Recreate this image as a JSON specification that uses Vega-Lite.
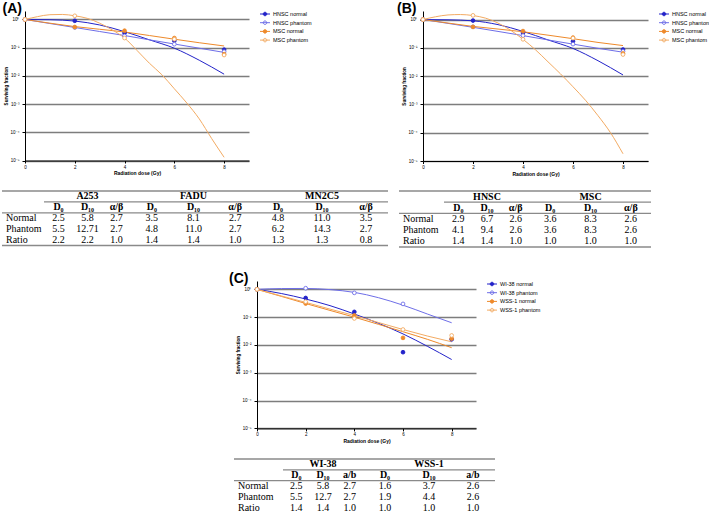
{
"$schema":"https://vega.github.io/schema/vega-lite/v6.json",
"padding":{"left":1,"top":2,"right":0,"bottom":0},
"background":"white",
"config":{
 "view":{"stroke":null},
 "font":"Liberation Sans",
 "title":{"anchor":"start","frame":"group","dx":-22.5,"offset":-5,"fontSize":14,"font":"Liberation Sans","fontWeight":"bold","color":"#000"},
 "axisX":{"grid":false,"domainColor":"#000","tickColor":"#000","tickSize":2.5,"labelFontSize":4.5,"labelPadding":1,"titleFontSize":5,"titleFontWeight":"bold","titlePadding":2,"labelColor":"#000","titleColor":"#000","labelFlush":false,"labelFont":"Liberation Sans","titleFont":"Liberation Sans"},
 "axisY":{"grid":true,"gridColor":"#7d7d7d","gridWidth":1.3,"domainColor":"#000","tickColor":"#000","tickSize":3,"labelFontSize":4.5,"labelPadding":3,"titleFontSize":4.5,"titleFontWeight":"bold","titlePadding":2,"labelColor":"#000","titleColor":"#000","labelFlush":false,"labelFont":"Liberation Sans","titleFont":"Liberation Sans"},
 "legend":{"labelFont":"Liberation Sans","labelFontSize":5.5,"labelColor":"#000","symbolSize":25,"symbolStrokeWidth":1,"labelOffset":5,"rowPadding":0.7,"padding":0,"offset":13,"orient":"right"}
},
"datasets":{
 "cA":[
  {"s":"HNSC normal","d":0,"v":1},{"s":"HNSC normal","d":1,"v":0.98},{"s":"HNSC normal","d":2,"v":0.88},{"s":"HNSC normal","d":3,"v":0.64},{"s":"HNSC normal","d":4,"v":0.37},{"s":"HNSC normal","d":5,"v":0.19},{"s":"HNSC normal","d":6,"v":0.096},{"s":"HNSC normal","d":7,"v":0.036},{"s":"HNSC normal","d":8,"v":0.0115},
  {"s":"HNSC phantom","d":0,"v":1},{"s":"HNSC phantom","d":1,"v":0.72},{"s":"HNSC phantom","d":2,"v":0.52},{"s":"HNSC phantom","d":3,"v":0.375},{"s":"HNSC phantom","d":4,"v":0.27},{"s":"HNSC phantom","d":5,"v":0.19},{"s":"HNSC phantom","d":6,"v":0.135},{"s":"HNSC phantom","d":7,"v":0.096},{"s":"HNSC phantom","d":8,"v":0.068},
  {"s":"MSC normal","d":0,"v":1},{"s":"MSC normal","d":1,"v":0.74},{"s":"MSC normal","d":2,"v":0.56},{"s":"MSC normal","d":3,"v":0.45},{"s":"MSC normal","d":4,"v":0.36},{"s":"MSC normal","d":5,"v":0.27},{"s":"MSC normal","d":6,"v":0.2},{"s":"MSC normal","d":7,"v":0.15},{"s":"MSC normal","d":8,"v":0.115},
  {"s":"MSC phantom","d":0,"v":1},{"s":"MSC phantom","d":0.5,"v":1.26},{"s":"MSC phantom","d":1,"v":1.48},{"s":"MSC phantom","d":1.5,"v":1.51},{"s":"MSC phantom","d":2,"v":1.35},{"s":"MSC phantom","d":2.5,"v":1.1},{"s":"MSC phantom","d":3,"v":0.74},{"s":"MSC phantom","d":3.5,"v":0.43},{"s":"MSC phantom","d":4,"v":0.22},{"s":"MSC phantom","d":4.5,"v":0.08},{"s":"MSC phantom","d":5,"v":0.028},{"s":"MSC phantom","d":5.5,"v":0.011},{"s":"MSC phantom","d":6,"v":0.0035},{"s":"MSC phantom","d":6.5,"v":0.0011},{"s":"MSC phantom","d":7,"v":0.0003},{"s":"MSC phantom","d":7.5,"v":0.00006},{"s":"MSC phantom","d":8,"v":0.000013}
 ],
 "pA":[
  {"s":"HNSC normal","d":0,"v":1},{"s":"HNSC normal","d":2,"v":0.9},{"s":"HNSC normal","d":4,"v":0.33},{"s":"HNSC normal","d":6,"v":0.176},{"s":"HNSC normal","d":8,"v":0.085},
  {"s":"HNSC phantom","d":0,"v":1},{"s":"HNSC phantom","d":2,"v":0.52},{"s":"HNSC phantom","d":4,"v":0.26},{"s":"HNSC phantom","d":6,"v":0.133},{"s":"HNSC phantom","d":8,"v":0.072},
  {"s":"MSC normal","d":0,"v":1},{"s":"MSC normal","d":2,"v":0.54},{"s":"MSC normal","d":4,"v":0.4},{"s":"MSC normal","d":6,"v":0.22},{"s":"MSC normal","d":8,"v":0.059},
  {"s":"MSC phantom","d":0,"v":1},{"s":"MSC phantom","d":2,"v":1.35},{"s":"MSC phantom","d":4,"v":0.22},{"s":"MSC phantom","d":6,"v":0.2},{"s":"MSC phantom","d":8,"v":0.055}
 ],
 "cB":[
  {"s":"HNSC normal","d":0,"v":1},{"s":"HNSC normal","d":1,"v":0.98},{"s":"HNSC normal","d":2,"v":0.9},{"s":"HNSC normal","d":3,"v":0.66},{"s":"HNSC normal","d":4,"v":0.38},{"s":"HNSC normal","d":5,"v":0.19},{"s":"HNSC normal","d":6,"v":0.095},{"s":"HNSC normal","d":7,"v":0.035},{"s":"HNSC normal","d":8,"v":0.011},
  {"s":"HNSC phantom","d":0,"v":1},{"s":"HNSC phantom","d":1,"v":0.73},{"s":"HNSC phantom","d":2,"v":0.53},{"s":"HNSC phantom","d":3,"v":0.38},{"s":"HNSC phantom","d":4,"v":0.27},{"s":"HNSC phantom","d":5,"v":0.19},{"s":"HNSC phantom","d":6,"v":0.135},{"s":"HNSC phantom","d":7,"v":0.096},{"s":"HNSC phantom","d":8,"v":0.07},
  {"s":"MSC normal","d":0,"v":1},{"s":"MSC normal","d":1,"v":0.75},{"s":"MSC normal","d":2,"v":0.57},{"s":"MSC normal","d":3,"v":0.46},{"s":"MSC normal","d":4,"v":0.37},{"s":"MSC normal","d":5,"v":0.28},{"s":"MSC normal","d":6,"v":0.21},{"s":"MSC normal","d":7,"v":0.155},{"s":"MSC normal","d":8,"v":0.12},
  {"s":"MSC phantom","d":0,"v":1},{"s":"MSC phantom","d":0.5,"v":1.25},{"s":"MSC phantom","d":1,"v":1.45},{"s":"MSC phantom","d":1.5,"v":1.5},{"s":"MSC phantom","d":2,"v":1.38},{"s":"MSC phantom","d":2.5,"v":1.12},{"s":"MSC phantom","d":3,"v":0.75},{"s":"MSC phantom","d":3.5,"v":0.42},{"s":"MSC phantom","d":4,"v":0.2},{"s":"MSC phantom","d":4.5,"v":0.085},{"s":"MSC phantom","d":5,"v":0.032},{"s":"MSC phantom","d":5.5,"v":0.012},{"s":"MSC phantom","d":6,"v":0.0042},{"s":"MSC phantom","d":6.5,"v":0.0014},{"s":"MSC phantom","d":7,"v":0.0004},{"s":"MSC phantom","d":7.5,"v":0.0001},{"s":"MSC phantom","d":8,"v":0.000018}
 ],
 "pB":[
  {"s":"HNSC normal","d":0,"v":1},{"s":"HNSC normal","d":2,"v":0.92},{"s":"HNSC normal","d":4,"v":0.34},{"s":"HNSC normal","d":6,"v":0.17},{"s":"HNSC normal","d":8,"v":0.087},
  {"s":"HNSC phantom","d":0,"v":1},{"s":"HNSC phantom","d":2,"v":0.55},{"s":"HNSC phantom","d":4,"v":0.27},{"s":"HNSC phantom","d":6,"v":0.135},{"s":"HNSC phantom","d":8,"v":0.075},
  {"s":"MSC normal","d":0,"v":1},{"s":"MSC normal","d":2,"v":0.55},{"s":"MSC normal","d":4,"v":0.39},{"s":"MSC normal","d":6,"v":0.23},{"s":"MSC normal","d":8,"v":0.063},
  {"s":"MSC phantom","d":0,"v":1},{"s":"MSC phantom","d":2,"v":1.4},{"s":"MSC phantom","d":4,"v":0.2},{"s":"MSC phantom","d":6,"v":0.22},{"s":"MSC phantom","d":8,"v":0.058}
 ],
 "cC":[
  {"s":"WI-38 normal","d":0,"v":1},{"s":"WI-38 normal","d":1,"v":0.71},{"s":"WI-38 normal","d":2,"v":0.45},{"s":"WI-38 normal","d":3,"v":0.26},{"s":"WI-38 normal","d":4,"v":0.13},{"s":"WI-38 normal","d":5,"v":0.06},{"s":"WI-38 normal","d":6,"v":0.025},{"s":"WI-38 normal","d":7,"v":0.009},{"s":"WI-38 normal","d":8,"v":0.003},
  {"s":"WI-38 phantom","d":0,"v":1},{"s":"WI-38 phantom","d":1,"v":1.07},{"s":"WI-38 phantom","d":2,"v":1.08},{"s":"WI-38 phantom","d":3,"v":0.98},{"s":"WI-38 phantom","d":4,"v":0.78},{"s":"WI-38 phantom","d":5,"v":0.5},{"s":"WI-38 phantom","d":6,"v":0.27},{"s":"WI-38 phantom","d":7,"v":0.13},{"s":"WI-38 phantom","d":8,"v":0.063},
  {"s":"WSS-1 normal","d":0,"v":1},{"s":"WSS-1 normal","d":1,"v":0.56},{"s":"WSS-1 normal","d":2,"v":0.31},{"s":"WSS-1 normal","d":3,"v":0.175},{"s":"WSS-1 normal","d":4,"v":0.1},{"s":"WSS-1 normal","d":5,"v":0.055},{"s":"WSS-1 normal","d":6,"v":0.03},{"s":"WSS-1 normal","d":7,"v":0.016},{"s":"WSS-1 normal","d":8,"v":0.008},
  {"s":"WSS-1 phantom","d":0,"v":1},{"s":"WSS-1 phantom","d":1,"v":0.58},{"s":"WSS-1 phantom","d":2,"v":0.34},{"s":"WSS-1 phantom","d":3,"v":0.195},{"s":"WSS-1 phantom","d":4,"v":0.115},{"s":"WSS-1 phantom","d":5,"v":0.064},{"s":"WSS-1 phantom","d":6,"v":0.036},{"s":"WSS-1 phantom","d":7,"v":0.021},{"s":"WSS-1 phantom","d":8,"v":0.013}
 ],
 "pC":[
  {"s":"WI-38 normal","d":0,"v":1},{"s":"WI-38 normal","d":2,"v":0.49},{"s":"WI-38 normal","d":4,"v":0.155},{"s":"WI-38 normal","d":6,"v":0.0055},{"s":"WI-38 normal","d":8,"v":0.016},
  {"s":"WI-38 phantom","d":0,"v":1},{"s":"WI-38 phantom","d":2,"v":1.1},{"s":"WI-38 phantom","d":4,"v":0.75},{"s":"WI-38 phantom","d":6,"v":0.3},
  {"s":"WSS-1 normal","d":0,"v":1},{"s":"WSS-1 normal","d":2,"v":0.31},{"s":"WSS-1 normal","d":4,"v":0.115},{"s":"WSS-1 normal","d":6,"v":0.018},{"s":"WSS-1 normal","d":8,"v":0.017},
  {"s":"WSS-1 phantom","d":0,"v":1},{"s":"WSS-1 phantom","d":2,"v":0.36},{"s":"WSS-1 phantom","d":4,"v":0.09},{"s":"WSS-1 phantom","d":6,"v":0.036},{"s":"WSS-1 phantom","d":8,"v":0.022}
 ],
 "tab":[
  {"t":"A","g":"A253","r":"head","D10":"A253"},
  {"t":"A","g":"A253","r":"sub","D0":"D₀","D10":"D₁₀","ab":"α/β"},
  {"t":"A","g":"A253","r":"Normal","D0":"2.5","D10":"5.8","ab":"2.7"},
  {"t":"A","g":"A253","r":"Phantom","D0":"5.5","D10":"12.71","ab":"2.7"},
  {"t":"A","g":"A253","r":"Ratio","D0":"2.2","D10":"2.2","ab":"1.0"},
  {"t":"A","g":"FADU","r":"head","D10":"FADU"},
  {"t":"A","g":"FADU","r":"sub","D0":"D₀","D10":"D₁₀","ab":"α/β"},
  {"t":"A","g":"FADU","r":"Normal","D0":"3.5","D10":"8.1","ab":"2.7"},
  {"t":"A","g":"FADU","r":"Phantom","D0":"4.8","D10":"11.0","ab":"2.7"},
  {"t":"A","g":"FADU","r":"Ratio","D0":"1.4","D10":"1.4","ab":"1.0"},
  {"t":"A","g":"MN2C5","r":"head","D10":"MN2C5"},
  {"t":"A","g":"MN2C5","r":"sub","D0":"D₀","D10":"D₁₀","ab":"α/β"},
  {"t":"A","g":"MN2C5","r":"Normal","D0":"4.8","D10":"11.0","ab":"3.5"},
  {"t":"A","g":"MN2C5","r":"Phantom","D0":"6.2","D10":"14.3","ab":"2.7"},
  {"t":"A","g":"MN2C5","r":"Ratio","D0":"1.3","D10":"1.3","ab":"0.8"},
  {"t":"B","g":"HNSC","r":"head","D10":"HNSC"},
  {"t":"B","g":"HNSC","r":"sub","D0":"D₀","D10":"D₁₀","ab":"α/β"},
  {"t":"B","g":"HNSC","r":"Normal","D0":"2.9","D10":"6.7","ab":"2.6"},
  {"t":"B","g":"HNSC","r":"Phantom","D0":"4.1","D10":"9.4","ab":"2.6"},
  {"t":"B","g":"HNSC","r":"Ratio","D0":"1.4","D10":"1.4","ab":"1.0"},
  {"t":"B","g":"MSC","r":"head","D10":"MSC"},
  {"t":"B","g":"MSC","r":"sub","D0":"D₀","D10":"D₁₀","ab":"α/β"},
  {"t":"B","g":"MSC","r":"Normal","D0":"3.6","D10":"8.3","ab":"2.6"},
  {"t":"B","g":"MSC","r":"Phantom","D0":"3.6","D10":"8.3","ab":"2.6"},
  {"t":"B","g":"MSC","r":"Ratio","D0":"1.0","D10":"1.0","ab":"1.0"},
  {"t":"C","g":"WI-38","r":"head","D10":"WI-38"},
  {"t":"C","g":"WI-38","r":"sub","D0":"D₀","D10":"D₁₀","ab":"a/b"},
  {"t":"C","g":"WI-38","r":"Normal","D0":"2.5","D10":"5.8","ab":"2.7"},
  {"t":"C","g":"WI-38","r":"Phantom","D0":"5.5","D10":"12.7","ab":"2.7"},
  {"t":"C","g":"WI-38","r":"Ratio","D0":"1.4","D10":"1.4","ab":"1.0"},
  {"t":"C","g":"WSS-1","r":"head","D10":"WSS-1"},
  {"t":"C","g":"WSS-1","r":"sub","D0":"D₀","D10":"D₁₀","ab":"a/b"},
  {"t":"C","g":"WSS-1","r":"Normal","D0":"1.6","D10":"3.7","ab":"2.6"},
  {"t":"C","g":"WSS-1","r":"Phantom","D0":"1.9","D10":"4.4","ab":"2.6"},
  {"t":"C","g":"WSS-1","r":"Ratio","D0":"1.0","D10":"1.0","ab":"1.0"}
 ],
 "rowsL":[{"k":"L","r":"Normal"},{"k":"L","r":"Phantom"},{"k":"L","r":"Ratio"}],
 "rules":[{"k":"L","e":"top","r":"head"},{"k":"L","e":"bot","r":"sub"},{"k":"L","e":"bot","r":"Ratio"},{"k":"G","e":"top","r":"head"},{"k":"G","e":"bot","r":"head"},{"k":"G","e":"bot","r":"sub"},{"k":"G","e":"bot","r":"Ratio"}]
},
"resolve":{"scale":{"stroke":"independent","fill":"independent"},"legend":{"stroke":"independent","fill":"independent"}},
"spacing":24,
"vconcat":[
 {"spacing":14,"resolve":{"scale":{"stroke":"independent","fill":"independent"},"legend":{"stroke":"independent","fill":"independent"}},"vconcat":[
  {"hconcat":[
   {"width":22.5,"height":1,"data":{"values":[]},"mark":"point"},
   {"width":224,"height":149.5,"title":"(A)",
    "encoding":{
     "x":{"field":"d","type":"quantitative","scale":{"domain":[0,9],"nice":false,"zero":false},"axis":{"values":[0,2,4,6,8],"title":"Radiation dose (Gy)"}},
     "y":{"field":"v","type":"quantitative","scale":{"type":"log","domain":[0.00001,2],"nice":false},"axis":{"values":[0.00001,0.0001,0.001,0.01,0.1,1],"labelExpr":"datum.value > 0.5 ? '10⁰' : datum.value > 0.05 ? '10⁻¹' : datum.value > 0.005 ? '10⁻²' : datum.value > 0.0005 ? '10⁻³' : datum.value > 0.00005 ? '10⁻⁴' : '10⁻⁵'","title":"Surviving fraction"}},
     "stroke":{"field":"s","type":"nominal","title":null,"scale":{"domain":["HNSC normal","HNSC phantom","MSC normal","MSC phantom"],"range":["#2323c9","#6e6ee8","#ee8a2b","#f3ab63"]},"legend":{"symbolType":"M-2,0H2M-0.7,0A0.7,0.7,0,1,0,0.7,0A0.7,0.7,0,1,0,-0.7,0Z"}}
    },
    "layer":[
     {"data":{"name":"cA"},"mark":{"type":"line","interpolate":"monotone","strokeWidth":1}},
     {"data":{"name":"pA"},"mark":{"type":"point","filled":true,"size":14,"strokeWidth":0.9,"opacity":1},
      "encoding":{"fill":{"field":"s","type":"nominal","title":null,"scale":{"domain":["HNSC normal","HNSC phantom","MSC normal","MSC phantom"],"range":["#2323c9","#ffffff","#ee8a2b","#ffffff"]},"legend":{"symbolType":"M-2,0H2M-0.7,0A0.7,0.7,0,1,0,0.7,0A0.7,0.7,0,1,0,-0.7,0Z"}}}}
    ]},
   {"width":173.5,"height":1,"data":{"values":[]},"mark":"point"},
   {"width":225,"height":150,"title":{"text":"(B)","dx":-26},
    "encoding":{
     "x":{"field":"d","type":"quantitative","scale":{"domain":[0,9],"nice":false,"zero":false},"axis":{"values":[0,2,4,6,8],"title":"Radiation dose (Gy)"}},
     "y":{"field":"v","type":"quantitative","scale":{"type":"log","domain":[0.00001,2],"nice":false},"axis":{"values":[0.00001,0.0001,0.001,0.01,0.1,1],"labelExpr":"datum.value > 0.5 ? '10⁰' : datum.value > 0.05 ? '10⁻¹' : datum.value > 0.005 ? '10⁻²' : datum.value > 0.0005 ? '10⁻³' : datum.value > 0.00005 ? '10⁻⁴' : '10⁻⁵'","title":"Surviving fraction"}},
     "stroke":{"field":"s","type":"nominal","title":null,"scale":{"domain":["HNSC normal","HNSC phantom","MSC normal","MSC phantom"],"range":["#2323c9","#6e6ee8","#ee8a2b","#f3ab63"]},"legend":{"symbolType":"M-2,0H2M-0.7,0A0.7,0.7,0,1,0,0.7,0A0.7,0.7,0,1,0,-0.7,0Z"}}
    },
    "layer":[
     {"data":{"name":"cB"},"mark":{"type":"line","interpolate":"monotone","strokeWidth":1}},
     {"data":{"name":"pB"},"mark":{"type":"point","filled":true,"size":14,"strokeWidth":0.9,"opacity":1},
      "encoding":{"fill":{"field":"s","type":"nominal","title":null,"scale":{"domain":["HNSC normal","HNSC phantom","MSC normal","MSC phantom"],"range":["#2323c9","#ffffff","#ee8a2b","#ffffff"]},"legend":{"symbolType":"M-2,0H2M-0.7,0A0.7,0.7,0,1,0,0.7,0A0.7,0.7,0,1,0,-0.7,0Z"}}}}
    ]}
  ],"spacing":0,"bounds":"flush","resolve":{"scale":{"stroke":"independent","fill":"independent"},"legend":{"stroke":"independent","fill":"independent"}}},
  {"hconcat":[
   {"width":42,"height":54.5,"layer":[
    {"data":{"name":"rowsL"},"mark":{"type":"text","font":"Liberation Serif","fontSize":10,"align":"left","dx":4,"color":"#000"},"encoding":{"x":{"field":"k","type":"nominal","bandPosition":0,"scale":{"type":"band","paddingInner":0,"paddingOuter":0},"axis":null},"y":{"field":"r","type":"nominal","scale":{"type":"band","domain":["head","sub","Normal","Phantom","Ratio"],"paddingInner":0,"paddingOuter":0},"axis":null},"text":{"field":"r"}}},
    {"data":{"name":"rules"},"transform":[{"filter":"datum.k=='L' && datum.e=='top'"}],"mark":{"type":"rule","color":"#8a8a8a","strokeWidth":1.3},"encoding":{"y":{"field":"r","type":"nominal","bandPosition":0,"scale":{"type":"band","domain":["head","sub","Normal","Phantom","Ratio"],"paddingInner":0,"paddingOuter":0},"axis":null}}},
    {"data":{"name":"rules"},"transform":[{"filter":"datum.k=='L' && datum.e=='bot'"}],"mark":{"type":"rule","color":"#8a8a8a","strokeWidth":1.3},"encoding":{"y":{"field":"r","type":"nominal","bandPosition":1,"scale":{"type":"band","domain":["head","sub","Normal","Phantom","Ratio"],"paddingInner":0,"paddingOuter":0},"axis":null}}}
   ]},
   {"width":87,"height":54.5,"layer":[
    {"data":{"name":"tab"},"transform":[{"filter":"datum.t=='A' && datum.g=='A253' && datum.r!='head' && datum.r!='sub'"},{"fold":["D0","D10","ab"],"as":["c","v"]},{"filter":"isValid(datum.v)"}],"mark":{"type":"text","font":"Liberation Serif","fontSize":10,"color":"#000"},"encoding":{"x":{"field":"c","type":"nominal","scale":{"type":"point","domain":["D0","D10","ab"],"padding":0.5},"axis":null},"y":{"field":"r","type":"nominal","scale":{"type":"band","domain":["head","sub","Normal","Phantom","Ratio"],"paddingInner":0,"paddingOuter":0},"axis":null},"text":{"field":"v"}}},
    {"data":{"name":"tab"},"transform":[{"filter":"datum.t=='A' && datum.g=='A253' && (datum.r=='head' || datum.r=='sub')"},{"fold":["D0","D10","ab"],"as":["c","v"]},{"filter":"isValid(datum.v)"}],"mark":{"type":"text","font":"Liberation Serif","fontSize":10,"fontWeight":"bold","color":"#000"},"encoding":{"x":{"field":"c","type":"nominal","scale":{"type":"point","domain":["D0","D10","ab"],"padding":0.5},"axis":null},"y":{"field":"r","type":"nominal","scale":{"type":"band","domain":["head","sub","Normal","Phantom","Ratio"],"paddingInner":0,"paddingOuter":0},"axis":null},"text":{"field":"v"}}},
    {"data":{"name":"rules"},"transform":[{"filter":"datum.k=='G' && datum.e=='top'"}],"mark":{"type":"rule","color":"#8a8a8a","strokeWidth":1.3},"encoding":{"y":{"field":"r","type":"nominal","bandPosition":0,"scale":{"type":"band","domain":["head","sub","Normal","Phantom","Ratio"],"paddingInner":0,"paddingOuter":0},"axis":null}}},
    {"data":{"name":"rules"},"transform":[{"filter":"datum.k=='G' && datum.e=='bot'"}],"mark":{"type":"rule","color":"#8a8a8a","strokeWidth":1.3},"encoding":{"y":{"field":"r","type":"nominal","bandPosition":1,"scale":{"type":"band","domain":["head","sub","Normal","Phantom","Ratio"],"paddingInner":0,"paddingOuter":0},"axis":null}}}
   ]},
   {"width":125,"height":54.5,"layer":[
    {"data":{"name":"tab"},"transform":[{"filter":"datum.t=='A' && datum.g=='FADU' && datum.r!='head' && datum.r!='sub'"},{"fold":["D0","D10","ab"],"as":["c","v"]},{"filter":"isValid(datum.v)"}],"mark":{"type":"text","font":"Liberation Serif","fontSize":10,"color":"#000"},"encoding":{"x":{"field":"c","type":"nominal","scale":{"type":"point","domain":["D0","D10","ab"],"padding":0.5},"axis":null},"y":{"field":"r","type":"nominal","scale":{"type":"band","domain":["head","sub","Normal","Phantom","Ratio"],"paddingInner":0,"paddingOuter":0},"axis":null},"text":{"field":"v"}}},
    {"data":{"name":"tab"},"transform":[{"filter":"datum.t=='A' && datum.g=='FADU' && (datum.r=='head' || datum.r=='sub')"},{"fold":["D0","D10","ab"],"as":["c","v"]},{"filter":"isValid(datum.v)"}],"mark":{"type":"text","font":"Liberation Serif","fontSize":10,"fontWeight":"bold","color":"#000"},"encoding":{"x":{"field":"c","type":"nominal","scale":{"type":"point","domain":["D0","D10","ab"],"padding":0.5},"axis":null},"y":{"field":"r","type":"nominal","scale":{"type":"band","domain":["head","sub","Normal","Phantom","Ratio"],"paddingInner":0,"paddingOuter":0},"axis":null},"text":{"field":"v"}}},
    {"data":{"name":"rules"},"transform":[{"filter":"datum.k=='G' && datum.e=='top'"}],"mark":{"type":"rule","color":"#8a8a8a","strokeWidth":1.3},"encoding":{"y":{"field":"r","type":"nominal","bandPosition":0,"scale":{"type":"band","domain":["head","sub","Normal","Phantom","Ratio"],"paddingInner":0,"paddingOuter":0},"axis":null}}},
    {"data":{"name":"rules"},"transform":[{"filter":"datum.k=='G' && datum.e=='bot'"}],"mark":{"type":"rule","color":"#8a8a8a","strokeWidth":1.3},"encoding":{"y":{"field":"r","type":"nominal","bandPosition":1,"scale":{"type":"band","domain":["head","sub","Normal","Phantom","Ratio"],"paddingInner":0,"paddingOuter":0},"axis":null}}}
   ]},
   {"width":132,"height":54.5,"layer":[
    {"data":{"name":"tab"},"transform":[{"filter":"datum.t=='A' && datum.g=='MN2C5' && datum.r!='head' && datum.r!='sub'"},{"fold":["D0","D10","ab"],"as":["c","v"]},{"filter":"isValid(datum.v)"}],"mark":{"type":"text","font":"Liberation Serif","fontSize":10,"color":"#000"},"encoding":{"x":{"field":"c","type":"nominal","scale":{"type":"point","domain":["D0","D10","ab"],"padding":0.5},"axis":null},"y":{"field":"r","type":"nominal","scale":{"type":"band","domain":["head","sub","Normal","Phantom","Ratio"],"paddingInner":0,"paddingOuter":0},"axis":null},"text":{"field":"v"}}},
    {"data":{"name":"tab"},"transform":[{"filter":"datum.t=='A' && datum.g=='MN2C5' && (datum.r=='head' || datum.r=='sub')"},{"fold":["D0","D10","ab"],"as":["c","v"]},{"filter":"isValid(datum.v)"}],"mark":{"type":"text","font":"Liberation Serif","fontSize":10,"fontWeight":"bold","color":"#000"},"encoding":{"x":{"field":"c","type":"nominal","scale":{"type":"point","domain":["D0","D10","ab"],"padding":0.5},"axis":null},"y":{"field":"r","type":"nominal","scale":{"type":"band","domain":["head","sub","Normal","Phantom","Ratio"],"paddingInner":0,"paddingOuter":0},"axis":null},"text":{"field":"v"}}},
    {"data":{"name":"rules"},"transform":[{"filter":"datum.k=='G' && datum.e=='top'"}],"mark":{"type":"rule","color":"#8a8a8a","strokeWidth":1.3},"encoding":{"y":{"field":"r","type":"nominal","bandPosition":0,"scale":{"type":"band","domain":["head","sub","Normal","Phantom","Ratio"],"paddingInner":0,"paddingOuter":0},"axis":null}}},
    {"data":{"name":"rules"},"transform":[{"filter":"datum.k=='G' && datum.e=='bot'"}],"mark":{"type":"rule","color":"#8a8a8a","strokeWidth":1.3},"encoding":{"y":{"field":"r","type":"nominal","bandPosition":1,"scale":{"type":"band","domain":["head","sub","Normal","Phantom","Ratio"],"paddingInner":0,"paddingOuter":0},"axis":null}}}
   ]},
   {"width":11,"height":1,"data":{"values":[]},"mark":"point"},
   {"width":45,"height":56,"layer":[
    {"data":{"name":"rowsL"},"mark":{"type":"text","font":"Liberation Serif","fontSize":10,"align":"left","dx":4,"color":"#000"},"encoding":{"x":{"field":"k","type":"nominal","bandPosition":0,"scale":{"type":"band","paddingInner":0,"paddingOuter":0},"axis":null},"y":{"field":"r","type":"nominal","scale":{"type":"band","domain":["head","sub","Normal","Phantom","Ratio"],"paddingInner":0,"paddingOuter":0},"axis":null},"text":{"field":"r"}}},
    {"data":{"name":"rules"},"transform":[{"filter":"datum.k=='L' && datum.e=='top'"}],"mark":{"type":"rule","color":"#8a8a8a","strokeWidth":1.3},"encoding":{"y":{"field":"r","type":"nominal","bandPosition":0,"scale":{"type":"band","domain":["head","sub","Normal","Phantom","Ratio"],"paddingInner":0,"paddingOuter":0},"axis":null}}},
    {"data":{"name":"rules"},"transform":[{"filter":"datum.k=='L' && datum.e=='bot'"}],"mark":{"type":"rule","color":"#8a8a8a","strokeWidth":1.3},"encoding":{"y":{"field":"r","type":"nominal","bandPosition":1,"scale":{"type":"band","domain":["head","sub","Normal","Phantom","Ratio"],"paddingInner":0,"paddingOuter":0},"axis":null}}}
   ]},
   {"width":86,"height":56,"layer":[
    {"data":{"name":"tab"},"transform":[{"filter":"datum.t=='B' && datum.g=='HNSC' && datum.r!='head' && datum.r!='sub'"},{"fold":["D0","D10","ab"],"as":["c","v"]},{"filter":"isValid(datum.v)"}],"mark":{"type":"text","font":"Liberation Serif","fontSize":10,"color":"#000"},"encoding":{"x":{"field":"c","type":"nominal","scale":{"type":"point","domain":["D0","D10","ab"],"padding":0.5},"axis":null},"y":{"field":"r","type":"nominal","scale":{"type":"band","domain":["head","sub","Normal","Phantom","Ratio"],"paddingInner":0,"paddingOuter":0},"axis":null},"text":{"field":"v"}}},
    {"data":{"name":"tab"},"transform":[{"filter":"datum.t=='B' && datum.g=='HNSC' && (datum.r=='head' || datum.r=='sub')"},{"fold":["D0","D10","ab"],"as":["c","v"]},{"filter":"isValid(datum.v)"}],"mark":{"type":"text","font":"Liberation Serif","fontSize":10,"fontWeight":"bold","color":"#000"},"encoding":{"x":{"field":"c","type":"nominal","scale":{"type":"point","domain":["D0","D10","ab"],"padding":0.5},"axis":null},"y":{"field":"r","type":"nominal","scale":{"type":"band","domain":["head","sub","Normal","Phantom","Ratio"],"paddingInner":0,"paddingOuter":0},"axis":null},"text":{"field":"v"}}},
    {"data":{"name":"rules"},"transform":[{"filter":"datum.k=='G' && datum.e=='top'"}],"mark":{"type":"rule","color":"#8a8a8a","strokeWidth":1.3},"encoding":{"y":{"field":"r","type":"nominal","bandPosition":0,"scale":{"type":"band","domain":["head","sub","Normal","Phantom","Ratio"],"paddingInner":0,"paddingOuter":0},"axis":null}}},
    {"data":{"name":"rules"},"transform":[{"filter":"datum.k=='G' && datum.e=='bot'"}],"mark":{"type":"rule","color":"#8a8a8a","strokeWidth":1.3},"encoding":{"y":{"field":"r","type":"nominal","bandPosition":1,"scale":{"type":"band","domain":["head","sub","Normal","Phantom","Ratio"],"paddingInner":0,"paddingOuter":0},"axis":null}}}
   ]},
   {"width":121,"height":56,"layer":[
    {"data":{"name":"tab"},"transform":[{"filter":"datum.t=='B' && datum.g=='MSC' && datum.r!='head' && datum.r!='sub'"},{"fold":["D0","D10","ab"],"as":["c","v"]},{"filter":"isValid(datum.v)"}],"mark":{"type":"text","font":"Liberation Serif","fontSize":10,"color":"#000"},"encoding":{"x":{"field":"c","type":"nominal","scale":{"type":"point","domain":["D0","D10","ab"],"padding":0.5},"axis":null},"y":{"field":"r","type":"nominal","scale":{"type":"band","domain":["head","sub","Normal","Phantom","Ratio"],"paddingInner":0,"paddingOuter":0},"axis":null},"text":{"field":"v"}}},
    {"data":{"name":"tab"},"transform":[{"filter":"datum.t=='B' && datum.g=='MSC' && (datum.r=='head' || datum.r=='sub')"},{"fold":["D0","D10","ab"],"as":["c","v"]},{"filter":"isValid(datum.v)"}],"mark":{"type":"text","font":"Liberation Serif","fontSize":10,"fontWeight":"bold","color":"#000"},"encoding":{"x":{"field":"c","type":"nominal","scale":{"type":"point","domain":["D0","D10","ab"],"padding":0.5},"axis":null},"y":{"field":"r","type":"nominal","scale":{"type":"band","domain":["head","sub","Normal","Phantom","Ratio"],"paddingInner":0,"paddingOuter":0},"axis":null},"text":{"field":"v"}}},
    {"data":{"name":"rules"},"transform":[{"filter":"datum.k=='G' && datum.e=='top'"}],"mark":{"type":"rule","color":"#8a8a8a","strokeWidth":1.3},"encoding":{"y":{"field":"r","type":"nominal","bandPosition":0,"scale":{"type":"band","domain":["head","sub","Normal","Phantom","Ratio"],"paddingInner":0,"paddingOuter":0},"axis":null}}},
    {"data":{"name":"rules"},"transform":[{"filter":"datum.k=='G' && datum.e=='bot'"}],"mark":{"type":"rule","color":"#8a8a8a","strokeWidth":1.3},"encoding":{"y":{"field":"r","type":"nominal","bandPosition":1,"scale":{"type":"band","domain":["head","sub","Normal","Phantom","Ratio"],"paddingInner":0,"paddingOuter":0},"axis":null}}}
   ]}
  ],"spacing":0,"bounds":"flush"}
 ]},
 {"spacing":14,"resolve":{"scale":{"stroke":"independent","fill":"independent"},"legend":{"stroke":"independent","fill":"independent"}},"vconcat":[
  {"hconcat":[
   {"width":255,"height":1,"data":{"values":[]},"mark":"point"},
   {"width":219,"height":147.4,"title":{"text":"(C)","dx":-28},
    "encoding":{
     "x":{"field":"d","type":"quantitative","scale":{"domain":[0,9],"nice":false,"zero":false},"axis":{"values":[0,2,4,6,8],"title":"Radiation dose (Gy)"}},
     "y":{"field":"v","type":"quantitative","scale":{"type":"log","domain":[0.00001,2],"nice":false},"axis":{"values":[0.00001,0.0001,0.001,0.01,0.1,1],"labelExpr":"datum.value > 0.5 ? '10⁰' : datum.value > 0.05 ? '10⁻¹' : datum.value > 0.005 ? '10⁻²' : datum.value > 0.0005 ? '10⁻³' : datum.value > 0.00005 ? '10⁻⁴' : '10⁻⁵'","title":"Surviving fraction"}},
     "stroke":{"field":"s","type":"nominal","title":null,"scale":{"domain":["WI-38 normal","WI-38 phantom","WSS-1 normal","WSS-1 phantom"],"range":["#2323c9","#6e6ee8","#ee8a2b","#f3ab63"]},"legend":{"symbolType":"M-2,0H2M-0.7,0A0.7,0.7,0,1,0,0.7,0A0.7,0.7,0,1,0,-0.7,0Z"}}
    },
    "layer":[
     {"data":{"name":"cC"},"mark":{"type":"line","interpolate":"monotone","strokeWidth":1}},
     {"data":{"name":"pC"},"mark":{"type":"point","filled":true,"size":14,"strokeWidth":0.9,"opacity":1},
      "encoding":{"fill":{"field":"s","type":"nominal","title":null,"scale":{"domain":["WI-38 normal","WI-38 phantom","WSS-1 normal","WSS-1 phantom"],"range":["#2323c9","#ffffff","#ee8a2b","#ffffff"]},"legend":{"symbolType":"M-2,0H2M-0.7,0A0.7,0.7,0,1,0,0.7,0A0.7,0.7,0,1,0,-0.7,0Z"}}}}
    ]}
  ],"spacing":0,"bounds":"flush","resolve":{"scale":{"stroke":"independent","fill":"independent"},"legend":{"stroke":"independent","fill":"independent"}}},
  {"hconcat":[
   {"width":232,"height":1,"data":{"values":[]},"mark":"point"},
   {"width":49,"height":54,"layer":[
    {"data":{"name":"rowsL"},"mark":{"type":"text","font":"Liberation Serif","fontSize":10,"align":"left","dx":4,"color":"#000"},"encoding":{"x":{"field":"k","type":"nominal","bandPosition":0,"scale":{"type":"band","paddingInner":0,"paddingOuter":0},"axis":null},"y":{"field":"r","type":"nominal","scale":{"type":"band","domain":["head","sub","Normal","Phantom","Ratio"],"paddingInner":0,"paddingOuter":0},"axis":null},"text":{"field":"r"}}},
    {"data":{"name":"rules"},"transform":[{"filter":"datum.k=='L' && datum.e=='top'"}],"mark":{"type":"rule","color":"#8a8a8a","strokeWidth":1.3},"encoding":{"y":{"field":"r","type":"nominal","bandPosition":0,"scale":{"type":"band","domain":["head","sub","Normal","Phantom","Ratio"],"paddingInner":0,"paddingOuter":0},"axis":null}}},
    {"data":{"name":"rules"},"transform":[{"filter":"datum.k=='L' && datum.e=='bot'"}],"mark":{"type":"rule","color":"#8a8a8a","strokeWidth":1.3},"encoding":{"y":{"field":"r","type":"nominal","bandPosition":1,"scale":{"type":"band","domain":["head","sub","Normal","Phantom","Ratio"],"paddingInner":0,"paddingOuter":0},"axis":null}}}
   ]},
   {"width":80,"height":54,"layer":[
    {"data":{"name":"tab"},"transform":[{"filter":"datum.t=='C' && datum.g=='WI-38' && datum.r!='head' && datum.r!='sub'"},{"fold":["D0","D10","ab"],"as":["c","v"]},{"filter":"isValid(datum.v)"}],"mark":{"type":"text","font":"Liberation Serif","fontSize":10,"color":"#000"},"encoding":{"x":{"field":"c","type":"nominal","scale":{"type":"point","domain":["D0","D10","ab"],"padding":0.5},"axis":null},"y":{"field":"r","type":"nominal","scale":{"type":"band","domain":["head","sub","Normal","Phantom","Ratio"],"paddingInner":0,"paddingOuter":0},"axis":null},"text":{"field":"v"}}},
    {"data":{"name":"tab"},"transform":[{"filter":"datum.t=='C' && datum.g=='WI-38' && (datum.r=='head' || datum.r=='sub')"},{"fold":["D0","D10","ab"],"as":["c","v"]},{"filter":"isValid(datum.v)"}],"mark":{"type":"text","font":"Liberation Serif","fontSize":10,"fontWeight":"bold","color":"#000"},"encoding":{"x":{"field":"c","type":"nominal","scale":{"type":"point","domain":["D0","D10","ab"],"padding":0.5},"axis":null},"y":{"field":"r","type":"nominal","scale":{"type":"band","domain":["head","sub","Normal","Phantom","Ratio"],"paddingInner":0,"paddingOuter":0},"axis":null},"text":{"field":"v"}}},
    {"data":{"name":"rules"},"transform":[{"filter":"datum.k=='G' && datum.e=='top'"}],"mark":{"type":"rule","color":"#8a8a8a","strokeWidth":1.3},"encoding":{"y":{"field":"r","type":"nominal","bandPosition":0,"scale":{"type":"band","domain":["head","sub","Normal","Phantom","Ratio"],"paddingInner":0,"paddingOuter":0},"axis":null}}},
    {"data":{"name":"rules"},"transform":[{"filter":"datum.k=='G' && datum.e=='bot'"}],"mark":{"type":"rule","color":"#8a8a8a","strokeWidth":1.3},"encoding":{"y":{"field":"r","type":"nominal","bandPosition":1,"scale":{"type":"band","domain":["head","sub","Normal","Phantom","Ratio"],"paddingInner":0,"paddingOuter":0},"axis":null}}}
   ]},
   {"width":132,"height":54,"layer":[
    {"data":{"name":"tab"},"transform":[{"filter":"datum.t=='C' && datum.g=='WSS-1' && datum.r!='head' && datum.r!='sub'"},{"fold":["D0","D10","ab"],"as":["c","v"]},{"filter":"isValid(datum.v)"}],"mark":{"type":"text","font":"Liberation Serif","fontSize":10,"color":"#000"},"encoding":{"x":{"field":"c","type":"nominal","scale":{"type":"point","domain":["D0","D10","ab"],"padding":0.5},"axis":null},"y":{"field":"r","type":"nominal","scale":{"type":"band","domain":["head","sub","Normal","Phantom","Ratio"],"paddingInner":0,"paddingOuter":0},"axis":null},"text":{"field":"v"}}},
    {"data":{"name":"tab"},"transform":[{"filter":"datum.t=='C' && datum.g=='WSS-1' && (datum.r=='head' || datum.r=='sub')"},{"fold":["D0","D10","ab"],"as":["c","v"]},{"filter":"isValid(datum.v)"}],"mark":{"type":"text","font":"Liberation Serif","fontSize":10,"fontWeight":"bold","color":"#000"},"encoding":{"x":{"field":"c","type":"nominal","scale":{"type":"point","domain":["D0","D10","ab"],"padding":0.5},"axis":null},"y":{"field":"r","type":"nominal","scale":{"type":"band","domain":["head","sub","Normal","Phantom","Ratio"],"paddingInner":0,"paddingOuter":0},"axis":null},"text":{"field":"v"}}},
    {"data":{"name":"rules"},"transform":[{"filter":"datum.k=='G' && datum.e=='top'"}],"mark":{"type":"rule","color":"#8a8a8a","strokeWidth":1.3},"encoding":{"y":{"field":"r","type":"nominal","bandPosition":0,"scale":{"type":"band","domain":["head","sub","Normal","Phantom","Ratio"],"paddingInner":0,"paddingOuter":0},"axis":null}}},
    {"data":{"name":"rules"},"transform":[{"filter":"datum.k=='G' && datum.e=='bot'"}],"mark":{"type":"rule","color":"#8a8a8a","strokeWidth":1.3},"encoding":{"y":{"field":"r","type":"nominal","bandPosition":1,"scale":{"type":"band","domain":["head","sub","Normal","Phantom","Ratio"],"paddingInner":0,"paddingOuter":0},"axis":null}}}
   ]}
  ],"spacing":0,"bounds":"flush"}
 ]}
]
}
